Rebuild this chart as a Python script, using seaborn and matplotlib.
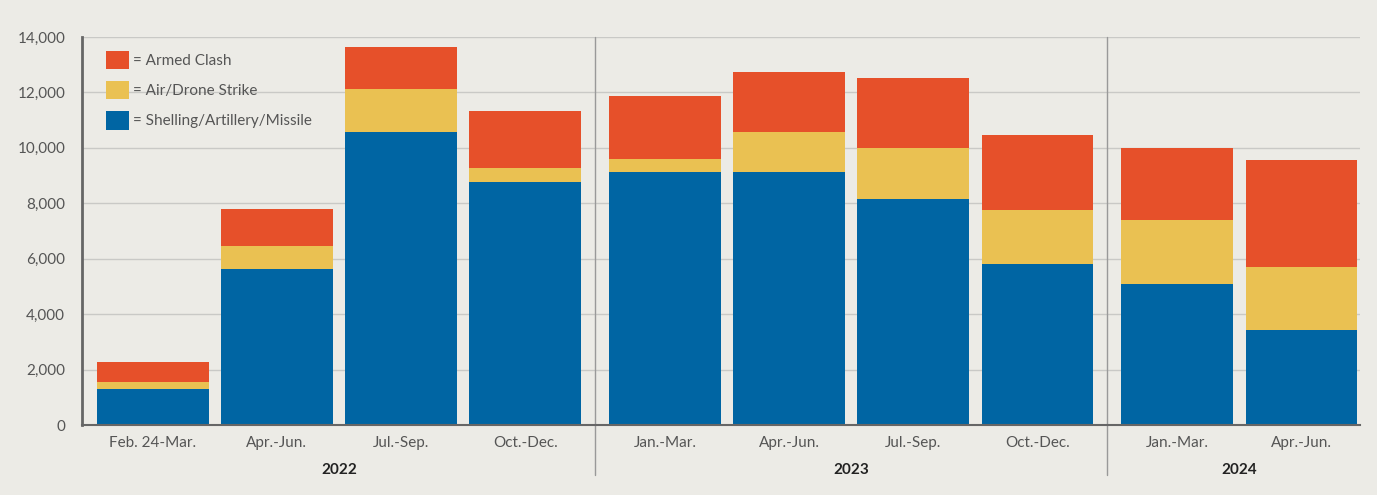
import numpy as np
import pandas as pd
import matplotlib.pyplot as plt
import seaborn as sns
from matplotlib.patches import Patch

# Values
periods = ['Feb. 24-Mar.', 'Apr.-Jun.', 'Jul.-Sep.', 'Oct.-Dec.',
           'Jan.-Mar.', 'Apr.-Jun.', 'Jul.-Sep.', 'Oct.-Dec.',
           'Jan.-Mar.', 'Apr.-Jun.']
years = ['2022'] * 4 + ['2023'] * 4 + ['2024'] * 2
shelling = [1300, 5630, 10580, 8770, 9130, 9130, 8160, 5810, 5090, 3430]
air_drone = [250, 830, 1550, 510, 470, 1450, 1840, 1950, 2310, 2270]
armed_clash = [725, 1340, 1520, 2060, 2280, 2160, 2530, 2710, 2600, 3870]

colors = {'Armed Clash': '#E6502A', 'Air/Drone Strike': '#EAC152', 'Shelling/Artillery/Missile': '#0065A3'}
bg = '#ECEBE6'

# bar positions, with a little extra room between the years
year_idx = pd.Series(years).astype('category').cat.codes.values
xpos = np.arange(len(periods)) + 0.125 * year_idx

df = pd.DataFrame({'x': xpos, 'shelling': shelling, 'air': air_drone, 'clash': armed_clash})
df['lvl2'] = df['shelling'] + df['air']
df['lvl3'] = df['lvl2'] + df['clash']

sns.set_style('white')
plt.rcParams['font.family'] = ['Lato', 'DejaVu Sans']

fig = plt.figure(figsize=(13.77, 4.95), dpi=100, facecolor=bg)
ax = fig.add_axes([0.0595, 0.1414, 0.928, 0.784])
ax.set_facecolor(bg)

for col, name in [('lvl3', 'Armed Clash'), ('lvl2', 'Air/Drone Strike'), ('shelling', 'Shelling/Artillery/Missile')]:
    sns.barplot(data=df, x='x', y=col, native_scale=True, color=colors[name],
                saturation=1, width=0.9, linewidth=0, errorbar=None, ax=ax)

ax.set_ylim(0, 14000)
ax.set_xlim(xpos[0] - 0.57, xpos[-1] + 0.47)
ax.set_yticks(range(0, 14001, 2000))
ax.set_yticklabels([f'{v:,}' for v in range(0, 14001, 2000)], fontsize=11, color='#555555')
ax.yaxis.grid(True, color='#C9C9C6', linewidth=1)
ax.set_axisbelow(True)
ax.tick_params(axis='y', length=0, pad=12)

ax.set_xticks(xpos)
ax.set_xticklabels(periods, fontsize=11, color='#555555')
ax.tick_params(axis='x', length=0, pad=8)
ax.set_xlabel('')
ax.set_ylabel('')

for s in ['top', 'right']:
    ax.spines[s].set_visible(False)
ax.spines['left'].set_color('#666666')
ax.spines['left'].set_linewidth(2)
ax.spines['bottom'].set_color('#666666')
ax.spines['bottom'].set_linewidth(1.5)

# year dividers and labels
for y in ['2022', '2023']:
    last = xpos[np.array(years) == y][-1]
    ax.axvline(last + 0.5625, ymin=-0.13, ymax=1, color='#999999', linewidth=1, clip_on=False)
for y in ['2022', '2023', '2024']:
    xs = xpos[np.array(years) == y]
    ax.text(xs.mean(), -0.115, y, transform=ax.get_xaxis_transform(), ha='center', va='center',
            fontsize=11, fontweight='bold', color='#222222')

handles = [Patch(facecolor=colors[n], edgecolor='none', label='= ' + n) for n in colors]
leg = ax.legend(handles=handles, loc='upper left', frameon=False, fontsize=11,
                handlelength=1.5, handleheight=1.5, handletextpad=0.3, labelspacing=0.75,
                bbox_to_anchor=(0.008, 1.0))
for t in leg.get_texts():
    t.set_color('#555555')

fig.savefig('out.png', dpi=100, facecolor=bg)
